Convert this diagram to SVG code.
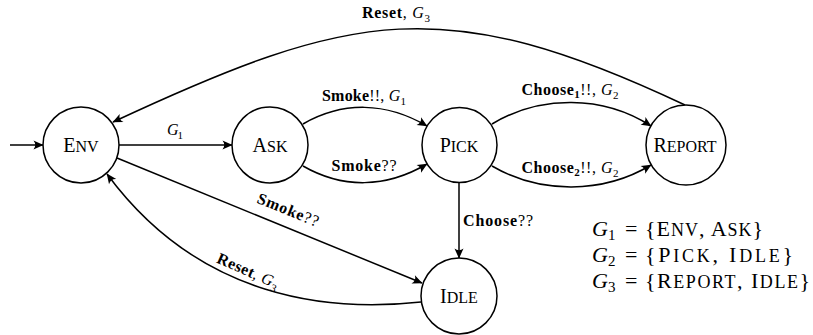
<svg xmlns="http://www.w3.org/2000/svg" width="813" height="335" viewBox="0 0 813 335">
<style>
  text { font-family: "Liberation Serif", "Times New Roman", serif; fill: #000; }
  .node circle { fill: #fff; stroke: #000; stroke-width: 1.5; }
  .nl { font-size: 20px; text-anchor: middle; }
  .sc { font-size: 16px; }
  .edge { fill: none; stroke: #000; stroke-width: 1.5; marker-end: url(#arr); }
  .el { font-size: 16px; text-anchor: middle; }
  .b { font-weight: bold; }
  .i { font-style: italic; }
  .sub { font-size: 11px; }
  .leg { font-size: 22px; }
  .lsc { font-size: 18px; }
  .lsub { font-size: 15px; }
</style>
<defs>
  <marker id="arr" markerUnits="userSpaceOnUse" viewBox="-11 -5 12 10" refX="0" refY="0" markerWidth="12" markerHeight="10" orient="auto">
    <path d="M0.5,0 L-9.5,-4.5 Q-6,0 -9.5,4.5 Z" fill="#000"/>
  </marker>
</defs>

<g id="connectors">
  <path class="edge" d="M10,145 L43,145"/>
  <path class="edge" d="M119,145 L232,145"/>
  <path class="edge" d="M303,124 C343,101 386,102 427,126"/>
  <path class="edge" d="M303,166 C343,189 386,188 427,164"/>
  <path class="edge" d="M492,124 C540,95 603,95 651,126"/>
  <path class="edge" d="M492,166 C540,194 603,194 651,165"/>
  <path class="edge" d="M685,105 C445,-8 353,10 113,122"/>
  <path class="edge" d="M459,183 L459,258"/>
  <path class="edge" d="M117,158 L422,283"/>
  <path class="edge" d="M421,302 C330,312 200,300 107,174"/>

  <text class="el" x="396" y="18" textLength="68"><tspan class="b">Reset</tspan>, <tspan class="i">G</tspan><tspan class="sub" dy="4">3</tspan></text>
  <text class="el" x="175" y="135" textLength="16"><tspan class="i">G</tspan><tspan class="sub" dy="4">1</tspan></text>
  <text class="el" x="364" y="101" textLength="84"><tspan class="b">Smoke</tspan>!!, <tspan class="i">G</tspan><tspan class="sub" dy="4">1</tspan></text>
  <text class="el" x="364" y="171" textLength="65"><tspan class="b">Smoke</tspan>??</text>
  <text class="el" x="570" y="95" textLength="97"><tspan class="b">Choose</tspan><tspan class="b sub" dy="3">1</tspan><tspan dy="-3">!!, </tspan><tspan class="i">G</tspan><tspan class="sub" dy="4">2</tspan></text>
  <text class="el" x="570" y="173" textLength="97"><tspan class="b">Choose</tspan><tspan class="b sub" dy="3">2</tspan><tspan dy="-3">!!, </tspan><tspan class="i">G</tspan><tspan class="sub" dy="4">2</tspan></text>
  <text class="el" x="498" y="226" textLength="70"><tspan class="b">Choose</tspan>??</text>
  <text class="el" x="288" y="215" textLength="65" transform="rotate(22 288 210)"><tspan class="b">Smoke</tspan>??</text>
  <text class="el" x="248" y="276" textLength="66" transform="rotate(24 248 271)"><tspan class="b">Reset</tspan>, <tspan class="i">G</tspan><tspan class="sub" dy="4">3</tspan></text>
</g>

<g id="env" class="node">
  <circle cx="81" cy="145" r="38"/>
  <text class="nl" x="81" y="152">E<tspan class="sc">NV</tspan></text>
</g>
<g id="ask" class="node">
  <circle cx="270" cy="145" r="38"/>
  <text class="nl" x="270" y="152">A<tspan class="sc">SK</tspan></text>
</g>
<g id="pick" class="node">
  <circle cx="459.5" cy="145" r="37.5"/>
  <text class="nl" x="459" y="152">P<tspan class="sc">ICK</tspan></text>
</g>
<g id="report" class="node">
  <circle cx="686" cy="145" r="40"/>
  <text class="nl" x="685" y="152">R<tspan class="sc">EPORT</tspan></text>
</g>
<g id="idle" class="node">
  <circle cx="459" cy="296" r="38"/>
  <text class="nl" x="459" y="303">I<tspan class="sc">DLE</tspan></text>
</g>

<g id="legend">
  <text class="leg" x="592" y="236"><tspan class="i">G</tspan><tspan class="lsub" dy="4">1</tspan></text>
  <text class="leg" x="625" y="236">=</text>
  <text class="leg" x="645" y="236" textLength="118">{E<tspan class="lsc">NV</tspan>, A<tspan class="lsc">SK</tspan>}</text>
  <text class="leg" x="592" y="262"><tspan class="i">G</tspan><tspan class="lsub" dy="4">2</tspan></text>
  <text class="leg" x="625" y="262">=</text>
  <text class="leg" x="645" y="262" textLength="148">{P<tspan class="lsc">ICK</tspan>, I<tspan class="lsc">DLE</tspan>}</text>
  <text class="leg" x="592" y="288"><tspan class="i">G</tspan><tspan class="lsub" dy="4">3</tspan></text>
  <text class="leg" x="625" y="288">=</text>
  <text class="leg" x="645" y="288" textLength="165">{R<tspan class="lsc">EPORT</tspan>, I<tspan class="lsc">DLE</tspan>}</text>
</g>
</svg>
